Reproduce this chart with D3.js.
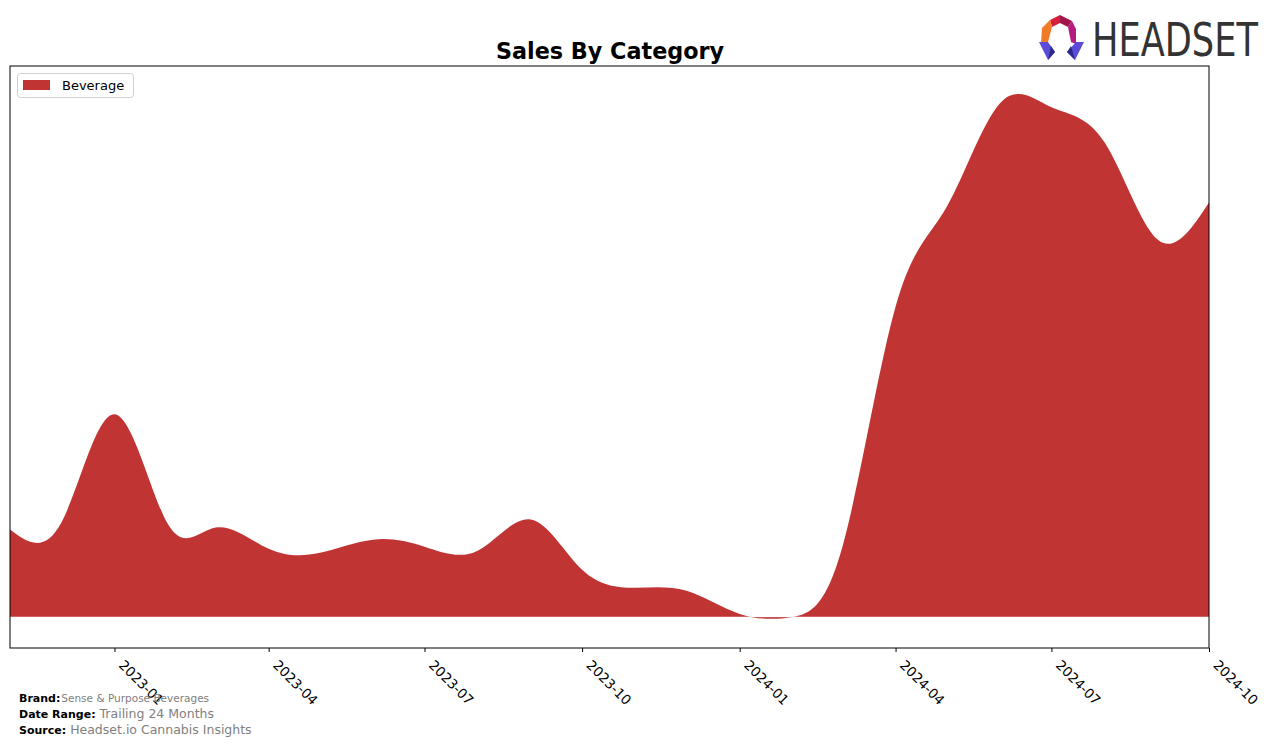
<!DOCTYPE html>
<html><head><meta charset="utf-8">
<script src="https://cdn.jsdelivr.net/npm/d3@7"></script>
<style>body{margin:0;background:#fff}svg{display:block}</style>
</head><body>
<svg id="c" width="1276" height="746"></svg>
<script>
const months = ["2022-11","2022-12","2023-01","2023-02","2023-03","2023-04","2023-05","2023-06","2023-07","2023-08","2023-09","2023-10","2023-11","2023-12","2024-01","2024-02","2024-03","2024-04","2024-05","2024-06","2024-07","2024-08","2024-09","2024-10"];
const beverage = [87,94,202,93,89,68,64,77,70,66,97,47,29,26,3,0,70,309,409,512,508,473,376,413];
const tickLabels = ["2023-01","2023-04","2023-07","2023-10","2024-01","2024-04","2024-07","2024-10"];
const yDomain = [-31, 549];
const seriesName = "Beverage";
const color = "#c03434";

const svg = d3.select("#c");
const L=10,R=1209,T=66,B=648;
const parse = d3.utcParse("%Y-%m");
const x = d3.scaleUtc().domain([parse(months[0]), parse(months[months.length-1])]).range([L,R]);
const y = d3.scaleLinear().domain(yDomain).range([B,T]);
const data = months.map((m,i)=>({d:parse(m),v:beverage[i]}));

svg.append("clipPath").attr("id","clip").append("rect").attr("x",L).attr("y",T).attr("width",R-L).attr("height",B-T);
const area = d3.area().x(d=>x(d.d)).y0(y(0)).y1(d=>y(d.v)).curve(d3.curveNatural);
svg.append("path").datum(data).attr("d",area).attr("fill",color).attr("clip-path","url(#clip)");
svg.append("line").attr("x1",L).attr("x2",R).attr("y1",y(0)).attr("y2",y(0)).attr("stroke","#fff").attr("stroke-opacity",0.5).attr("stroke-width",0.8);

// frame
svg.append("rect").attr("x",L).attr("y",T).attr("width",R-L).attr("height",B-T).attr("fill","none").attr("stroke","#000").attr("stroke-width",1);

// x axis
const ax = svg.append("g").attr("transform",`translate(0,${B})`)
  .call(d3.axisBottom(x).tickValues(tickLabels.map(parse)).tickSize(4).tickFormat(d3.utcFormat("%Y-%m")));
ax.select(".domain").remove();
ax.selectAll("line").attr("stroke","#000");
ax.selectAll("text").attr("font-family","DejaVu Sans").attr("font-size",13.5).attr("fill","#000")
  .attr("text-anchor","start").attr("dy",null).attr("y",0)
  .attr("transform","translate(3,18) rotate(45)");

// title
svg.append("text").attr("x",610).attr("y",59).attr("text-anchor","middle").attr("font-family","DejaVu Sans")
  .attr("font-weight","bold").attr("font-size",22.3).text("Sales By Category");

// legend
svg.append("rect").attr("x",17.5).attr("y",73.5).attr("width",116).attr("height",24).attr("rx",3)
  .attr("fill","#fff").attr("stroke","#d0d0d0");
svg.append("rect").attr("x",23).attr("y",80).attr("width",27).attr("height",10).attr("fill",color);
svg.append("text").attr("x",62).attr("y",90).attr("font-family","DejaVu Sans").attr("font-size",13).text(seriesName);

// footer
const foot=[["Brand:","Sense & Purpose Beverages",702,10.5],["Date Range:","Trailing 24 Months",718,12.5],["Source:","Headset.io Cannabis Insights",734,12.5]];
foot.forEach(f=>{
  const t=svg.append("text").attr("x",19).attr("y",f[2]).attr("font-family","DejaVu Sans");
  t.append("tspan").attr("font-weight","bold").attr("font-size",11).attr("fill","#000").text(f[0]);
  t.append("tspan").attr("font-size",f[3]).attr("fill","#808080").attr("dx",f[0]==="Brand:"?1:4).text(f[1]);
});

// logo
const lg=svg.append("g").attr("transform","translate(1038,14)");
const polys=[
 [[12,6],[22,1],[22,9],[14,13],"#d81e3a"],
 [[22,1],[34,7],[30,13],[22,9],"#a3154a"],
 [[34,7],[38,15],[38,30],[33,28],[30,13],"#b51c7f"],
 [[12,6],[14,13],[10,28],[3,30],[4,14],"#f07a25"],
 [[1,28],[10,28],[17,38],[10,46],"#5b4bd6"],
 [[10,46],[17,38],[13,32],"#2c2b8a"],
 [[38,28],[46,28],[37,46],[29,38],"#5b4bd6"],
 [[37,46],[29,38],[33,32],"#2c2b8a"]
];
polys.forEach(p=>{const c=p[p.length-1];lg.append("polygon").attr("points",p.slice(0,-1).map(q=>q.join(",")).join(" ")).attr("fill",c);});
const lt=svg.append("text").attr("font-family","DejaVu Sans").attr("font-size",46)
  .attr("fill","#333").text("HEADSET");
const w=lt.node().getComputedTextLength();
lt.attr("transform",`translate(1092,56) scale(${166/w},1)`);
</script>
</body></html>
